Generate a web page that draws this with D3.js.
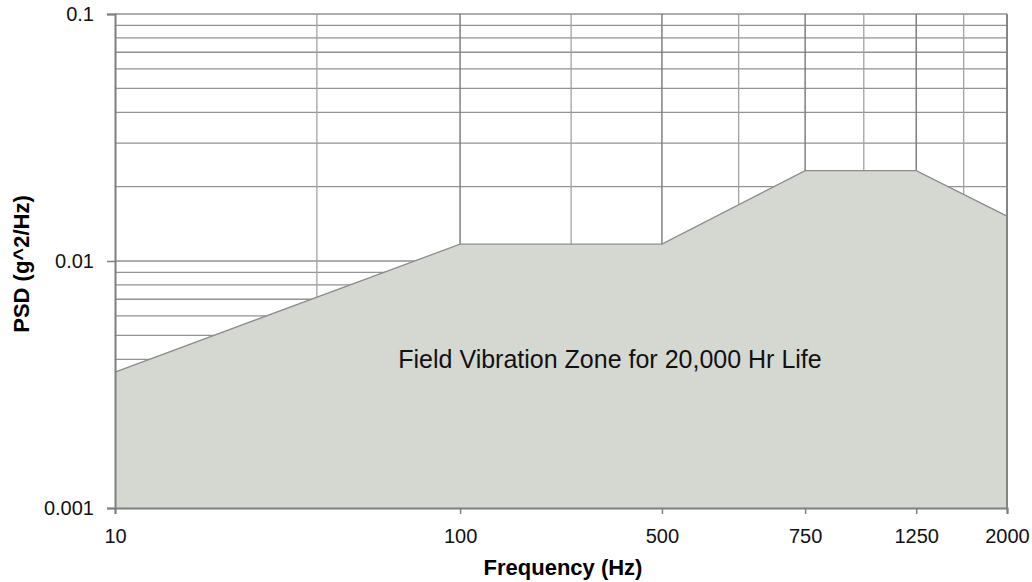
<!DOCTYPE html>
<html>
<head>
<meta charset="utf-8">
<script src="https://cdn.jsdelivr.net/npm/d3@7"></script>
<style>
  body { margin: 0; background: #fff; }
  svg { display: block; font-family: 'Liberation Sans', Arial, sans-serif; }
</style>
</head>
<body>
<svg></svg>
<script>
// frequency break points (Hz) and PSD level at each one (g^2/Hz)
const freqs = [10, 100, 500, 750, 1250, 2000];
const psd = [0.00355, 0.0117, 0.0117, 0.0232, 0.0232, 0.0152];
const yTicks = [0.001, 0.01, 0.1];
const zoneLabel = 'Field Vibration Zone for 20,000 Hr Life';

const width = 1032;
const height = 582;
const margin = { top: 14, right: 25, bottom: 74, left: 115 };
const innerW = width - margin.left - margin.right;
const innerH = height - margin.top - margin.bottom;

const svg = d3.select('svg')
  .attr('width', width)
  .attr('height', height);

const g = svg.append('g')
  .attr('transform', `translate(${margin.left}, ${margin.top})`);

// break points sit on a log axis of their position (1..n)
const xScale = d3.scaleLog()
  .domain([1, freqs.length])
  .range([0, innerW]);

const yScale = d3.scaleLog()
  .domain([0.001, 0.1])
  .range([innerH, 0]);

// horizontal grid: 1..9 in every decade
const hGrid = [];
for (let e = -3; e < -1; e++) {
  for (let m = 1; m < 10; m++) hGrid.push(m * Math.pow(10, e));
}
hGrid.push(0.1);

g.selectAll('.hgrid')
  .data(hGrid)
  .enter()
  .append('line')
  .attr('class', 'hgrid')
  .attr('x1', 0)
  .attr('x2', innerW)
  .attr('y1', d => yScale(d))
  .attr('y2', d => yScale(d))
  .style('stroke', '#929292')
  .style('stroke-width', 1.3);

// vertical grid: major at each break point, minor half way between
const minorX = d3.range(1.5, freqs.length, 1);
const majorX = d3.range(2, freqs.length + 1, 1);

g.selectAll('.vminor')
  .data(minorX)
  .enter()
  .append('line')
  .attr('x1', d => xScale(d))
  .attr('x2', d => xScale(d))
  .attr('y1', 0)
  .attr('y2', innerH)
  .style('stroke', '#a3a3a3')
  .style('stroke-width', 1.3);

g.selectAll('.vmajor')
  .data(majorX)
  .enter()
  .append('line')
  .attr('x1', d => xScale(d))
  .attr('x2', d => xScale(d))
  .attr('y1', 0)
  .attr('y2', innerH)
  .style('stroke', '#808080')
  .style('stroke-width', 1.5);

// the zone
const area = d3.area()
  .x((d, i) => xScale(i + 1))
  .y0(innerH)
  .y1(d => yScale(d));

const line = d3.line()
  .x((d, i) => xScale(i + 1))
  .y(d => yScale(d));

g.append('path')
  .datum(psd)
  .attr('d', area)
  .style('fill', '#d5d8d1');

g.append('path')
  .datum(psd)
  .attr('d', line)
  .style('fill', 'none')
  .style('stroke', '#8c8c8c')
  .style('stroke-width', 1.3);

g.append('text')
  .attr('x', 495)
  .attr('y', 354)
  .attr('text-anchor', 'middle')
  .style('font-size', '25px')
  .style('fill', '#111')
  .text(zoneLabel);

// axes
const xAxis = d3.axisBottom(xScale)
  .tickValues(d3.range(1, freqs.length + 1))
  .tickFormat(d => freqs[Math.round(d) - 1])
  .tickSize(6)
  .tickPadding(15);

const xg = g.append('g')
  .attr('transform', `translate(0, ${innerH})`)
  .call(xAxis);

const yAxis = d3.axisLeft(yScale)
  .tickValues(yTicks)
  .tickFormat(d3.format('~g'))
  .tickSize(8)
  .tickPadding(13);

const yg = g.append('g')
  .call(yAxis);

[xg, yg].forEach(a => {
  a.select('.domain').style('stroke', '#7f7f7f').style('stroke-width', 2);
  a.selectAll('.tick line').style('stroke', '#7f7f7f').style('stroke-width', 1.5);
  a.selectAll('.tick text')
    .style('font-size', '20px')
    .style('font-family', "'Liberation Sans', Arial, sans-serif")
    .style('fill', '#111');
});

// right border
g.append('line')
  .attr('x1', innerW)
  .attr('x2', innerW)
  .attr('y1', 0)
  .attr('y2', innerH)
  .style('stroke', '#858585')
  .style('stroke-width', 2);

svg.append('text')
  .attr('x', 563)
  .attr('y', 575)
  .attr('text-anchor', 'middle')
  .style('font-size', '22px')
  .style('font-weight', 'bold')
  .text('Frequency (Hz)');

svg.append('text')
  .attr('transform', 'translate(29, 264) rotate(-90)')
  .attr('text-anchor', 'middle')
  .style('font-size', '22px')
  .style('font-weight', 'bold')
  .text('PSD (g^2/Hz)');
</script>
</body>
</html>
